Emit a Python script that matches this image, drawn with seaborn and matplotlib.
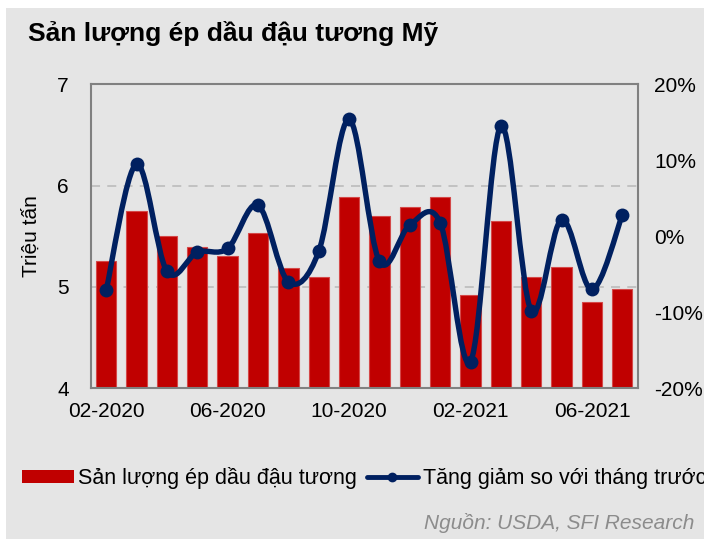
import numpy as np
import pandas as pd
import matplotlib
matplotlib.use("Agg")
import matplotlib.pyplot as plt
import seaborn as sns
from matplotlib.path import Path
from matplotlib.patches import PathPatch, Patch, Rectangle
from matplotlib.lines import Line2D

# dữ liệu
months = ["02-2020", "03-2020", "04-2020", "05-2020", "06-2020", "07-2020",
          "08-2020", "09-2020", "10-2020", "11-2020", "12-2020", "01-2021",
          "02-2021", "03-2021", "04-2021", "05-2021", "06-2021", "07-2021"]
san_luong = [5.26, 5.75, 5.50, 5.39, 5.31, 5.53, 5.19, 5.10, 5.89,
             5.70, 5.79, 5.89, 4.92, 5.65, 5.10, 5.20, 4.85, 4.98]
tang_giam = [-7.1, 9.5, -4.6, -2.1, -1.6, 4.1, -6.0, -2.0, 15.4,
             -3.3, 1.5, 1.8, -16.5, 14.5, -9.8, 2.2, -7.0, 2.8]
xtick_labels = ["02-2020", "06-2020", "10-2020", "02-2021", "06-2021"]

df = pd.DataFrame({"Tháng": months, "Sản lượng": san_luong, "Tăng giảm": tang_giam})

BG = "#E5E5E5"
RED = "#C00000"
NAVY = "#002060"

sns.set_theme(style="white")
plt.rcParams["font.family"] = ["Liberation Sans", "DejaVu Sans"]
plt.rcParams["text.color"] = "black"
plt.rcParams["xtick.color"] = "black"
plt.rcParams["ytick.color"] = "black"
plt.rcParams["axes.labelcolor"] = "black"

fig = plt.figure(figsize=(7.04, 5.39), dpi=100, facecolor="white")
fig.patches.append(Rectangle((6 / 704, 0), 1, 1 - 8 / 539, transform=fig.transFigure,
                             facecolor=BG, edgecolor="none", zorder=-10))
ax = fig.add_axes([91 / 704, 1 - 388.3 / 539, (637.5 - 91) / 704, (388.3 - 84.3) / 539])
ax.set_facecolor("none")

# cột sản lượng
sns.barplot(data=df, x="Tháng", y="Sản lượng", color=RED, width=0.67,
            saturation=1, ax=ax, zorder=2, edgecolor="#D44848", linewidth=0.8)
ax.set_ylim(4, 7)
ax.set_yticks([4, 5, 6, 7])
ax.set_xlim(-0.5, len(months) - 0.5)
ax.set_xticks([months.index(m) for m in xtick_labels])
ax.set_xticklabels(xtick_labels)
ax.set_xlabel("")
ax.set_ylabel("Triệu tấn", fontsize=15)
ax.yaxis.set_label_coords(-(91 - 41) / (637.5 - 91), 0.5)
for y in [5, 6]:
    ax.axhline(y, color="#BFBFBF", lw=1.3, ls=(0, (5, 4)), zorder=1)
ax.tick_params(axis="y", length=0, pad=16, labelsize=15)
ax.tick_params(axis="x", length=0, pad=10, labelsize=15)
for s in ax.spines.values():
    s.set_color("#808080")
    s.set_linewidth(1.5)

# đường tăng giảm (làm mượt kiểu Excel)
ax2 = ax.twinx()
ax2.set_ylim(-20, 20)
ax2.set_yticks([-20, -10, 0, 10, 20])
ax2.set_yticklabels([f"{v}%" for v in [-20, -10, 0, 10, 20]])
ax2.tick_params(axis="y", length=0, pad=12, labelsize=15)
for s in ax2.spines.values():
    s.set_visible(False)

xs = np.arange(len(months), dtype=float)
ys = np.array(tang_giam, dtype=float)
verts = [(xs[0], ys[0])]
codes = [Path.MOVETO]
n = len(xs)
for i in range(n - 1):
    p0 = np.array([xs[max(i - 1, 0)], ys[max(i - 1, 0)]])
    p1 = np.array([xs[i], ys[i]])
    p2 = np.array([xs[i + 1], ys[i + 1]])
    p3 = np.array([xs[min(i + 2, n - 1)], ys[min(i + 2, n - 1)]])
    c1 = p1 + (p2 - p0) / 6
    c2 = p2 - (p3 - p1) / 6
    verts += [tuple(c1), tuple(c2), tuple(p2)]
    codes += [Path.CURVE4] * 3
ax2.add_patch(PathPatch(Path(verts, codes), facecolor="none", edgecolor=NAVY,
                        lw=3.9, capstyle="round", joinstyle="round", zorder=3))
sns.scatterplot(x=xs, y=ys, ax=ax2, color=NAVY, s=100, edgecolor=NAVY,
                linewidth=0, zorder=4, legend=False)
ax2.set_xlim(-0.5, len(months) - 0.5)

fig.text(28 / 704, 1 - 34 / 539, "Sản lượng ép dầu đậu tương Mỹ", fontsize=19,
         fontweight="bold", va="center", ha="left")

handles = [Patch(facecolor=RED, edgecolor="none"),
           Line2D([], [], color=NAVY, lw=3.5, marker="o", markersize=6)]
fig.legend(handles, ["Sản lượng ép dầu đậu tương", "Tăng giảm so với tháng trước"],
           loc="center left", bbox_to_anchor=(22 / 704, 1 - 478 / 539), ncol=2,
           frameon=False, fontsize=15.5, handlelength=2.4, handleheight=0.55,
           handletextpad=0.2, columnspacing=0.45, borderaxespad=0, borderpad=0)

fig.text(694 / 704, 1 - 523 / 539, "Nguồn: USDA, SFI Research", fontsize=15,
         style="italic", color="#8C8C8C", ha="right", va="center")

fig.savefig("out.png", dpi=100, facecolor="white")
